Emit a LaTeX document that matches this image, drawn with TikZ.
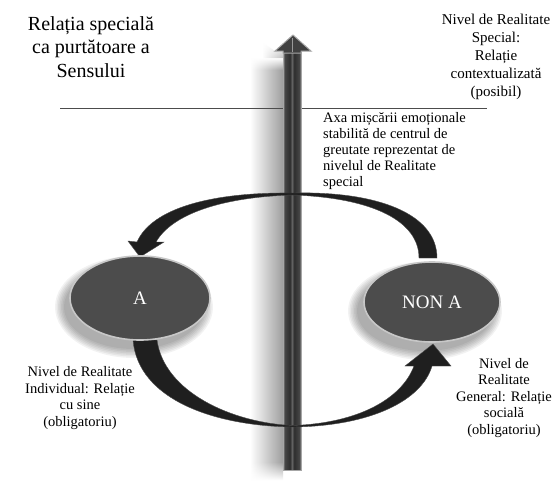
\documentclass[tikz,border=0pt]{standalone}
\usepackage{fontspec}
\setmainfont{Liberation Serif}
\usetikzlibrary{shapes.geometric,calc,fadings}
\pgfdeclarehorizontalshading{shaftshade}{100bp}{color(0bp)=(black!30); color(25bp)=(black!30); color(29bp)=(black!72); color(44bp)=(black!82); color(50bp)=(black!62); color(56bp)=(black!82); color(71bp)=(black!72); color(75bp)=(black!30); color(100bp)=(black!30)}
\begin{document}
\begin{tikzpicture}[x=1pt,y=-1pt,
  txt/.style={font=\fontsize{15}{17}\selectfont, align=center, inner sep=0pt, text=black},
  bubble/.style={ellipse, fill=black!70, draw=black!22, line width=1.6pt, text=white, inner sep=0pt, font=\fontsize{19}{22}\selectfont},
  arrowfill/.style={fill=black!88, draw=black!70, line width=0.4pt},
  rule/.style={draw=black!70, line width=0.8pt}
]
\useasboundingbox[fill=white] (0,0) rectangle (558,483);

% soft shadow left of the vertical axis
\shade[left color=white, right color=black!38, path fading=north] (250,58) rectangle (283,70);
\shade[left color=white, right color=black!38] (250,70) rectangle (283,462);
\shade[left color=white, right color=black!38, path fading=south] (250,462) rectangle (283,480);
\shade[left color=white, right color=black!25, path fading=north] (262,42) -- (275,51) -- (283,52) -- (283,58) -- (262,58) -- cycle;

% horizontal rule
\coordinate (rl) at (60,108);
\coordinate (rr) at (487,108);
\draw[rule] (rl) -- (rr);

% vertical axis arrow
\coordinate (axbot) at (292,470);
\coordinate (axtop) at (293,35);
\shade[shading=shaftshade, draw=black!35, line width=0.6pt] (283,50) rectangle (301,470);
\fill[black!75, draw=black!35, line width=1pt] (axtop) -- (311,51) -- (301,51) -- (301,53) -- (283,53) -- (283,51) -- (275,51) -- cycle;
\draw[black!40, line width=1pt] (292,38) -- (292,52);

% ellipse shadows
\foreach \s in {0,...,6}{
  \fill[black, opacity=0.05] (134,307) ellipse ({70+\s*1.5} and {42+\s*1.5});
  \fill[black, opacity=0.05] (425,311) ellipse ({68+\s*1.5} and {40+\s*1.5});
}

% curved arrows
\coordinate (upTip) at (140,257);
\coordinate (loTip) at (433,344);
\fill[arrowfill] (upTip) -- (164,242) -- (156,242)
  .. controls (172,214) and (222,197) .. (293,195)
  .. controls (375,198) and (419,222) .. (419,258)
  -- (437,258)
  .. controls (437,214) and (378,191) .. (293,193)
  .. controls (212,192) and (152,208) .. (137,242)
  -- (128,241) -- cycle;
\fill[arrowfill] (133,340)
  .. controls (138,400) and (215,426) .. (293,427)
  .. controls (372,426) and (422,400) .. (432,366)
  -- (451,366) -- (loTip) -- (405,366) -- (414,366)
  .. controls (402,398) and (360,423) .. (293,425.5)
  .. controls (232,423) and (164,392) .. (157,340) -- cycle;

% ellipses
\node[bubble, minimum width=140pt, minimum height=84pt] (A) at (140,298) {A};
\node[bubble, minimum width=136pt, minimum height=80pt] (NONA) at (432,302) {NON A};

% texts
\node[txt, font=\fontsize{20}{23.5}\selectfont] (title) at (91,47) {Relația specială\\ca purtătoare a\\Sensului};
\node[txt, font=\fontsize{15}{18}\selectfont] (special) at (496,57) {Nivel de Realitate\\Special:\\Relație\\contextualizată\\(posibil)};
\node[txt, align=left, anchor=west, font=\fontsize{14.5}{16.2}\selectfont] (axa) at (323,151) {Axa mișcării emoționale\\stabilită de centrul de\\greutate reprezentat de\\nivelul de Realitate\\special};
\node[txt, font=\fontsize{14.5}{16.5}\selectfont] (indiv) at (80,398) {Nivel de Realitate\\Individual: Relație\\cu sine\\(obligatoriu)};
\node[txt, font=\fontsize{14.5}{16.5}\selectfont] (gen) at (504,398) {Nivel de\\Realitate\\General: Relație\\socială\\(obligatoriu)};
\end{tikzpicture}
\end{document}
